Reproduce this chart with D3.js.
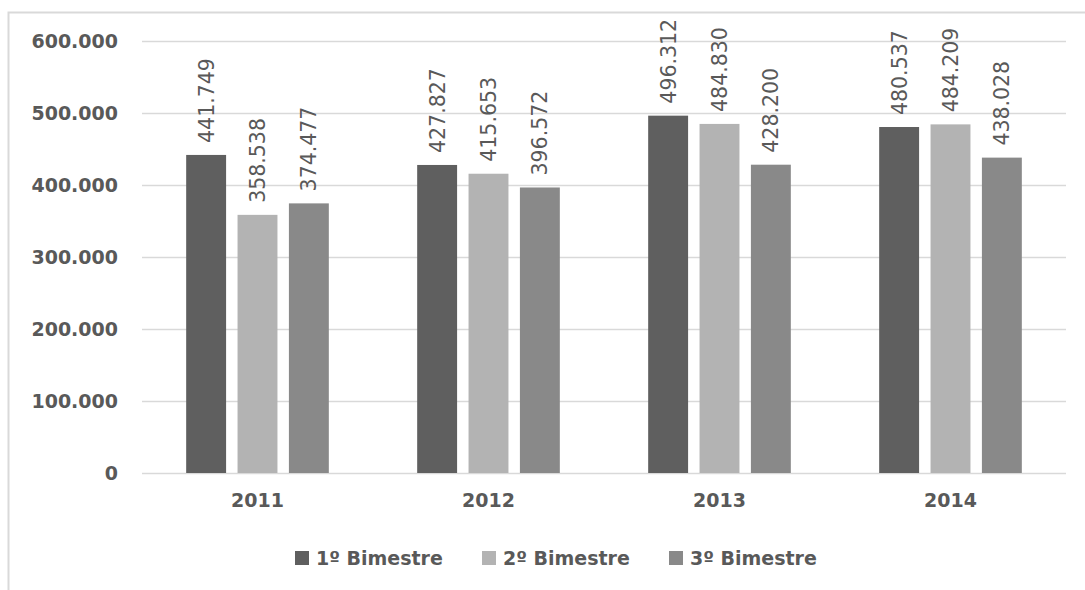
<!DOCTYPE html>
<html>
<head>
<meta charset="utf-8">
<script src="https://cdn.jsdelivr.net/npm/d3@7/dist/d3.min.js"></script>
<style>
  html, body { margin: 0; padding: 0; background: #ffffff; }
  svg { display: block; }
  text { font-family: "DejaVu Sans", Verdana, sans-serif; fill: #595959; }
</style>
</head>
<body>
<svg id="chart" width="1085" height="590"></svg>
<script>
// Years on the category axis
const years = ["2011", "2012", "2013", "2014"];
// Series names (bimesters)
const series = ["1º Bimestre", "2º Bimestre", "3º Bimestre"];
// Values per series, one entry per year
const bim1 = [441749, 427827, 496312, 480537];
const bim2 = [358538, 415653, 484830, 484209];
const bim3 = [374477, 396572, 428200, 438028];
// Y axis ticks
const yTicks = [0, 100000, 200000, 300000, 400000, 500000, 600000];

const colors = ["#5f5f5f", "#b3b3b3", "#898989"];
const seriesValues = [bim1, bim2, bim3];

const rows = [];
years.forEach((yr, i) => {
  series.forEach((s, j) => rows.push({ year: yr, series: s, value: seriesValues[j][i], color: colors[j] }));
});

const ptBR = d3.formatLocale({ decimal: ",", thousands: ".", grouping: [3], currency: ["R$", ""] });
const fmt = ptBR.format(",d");

const svg = d3.select("#chart");

// Chart frame
svg.append("rect")
  .attr("x", 8.5).attr("y", 12.5)
  .attr("width", 1200).attr("height", 700)
  .attr("fill", "#ffffff")
  .attr("stroke", "#d9d9d9").attr("stroke-width", 2);

const x0 = d3.scaleBand().domain(years).range([142, 1066]).paddingInner(0).paddingOuter(0);
const x1 = d3.scaleBand().domain(series).range([0, x0.bandwidth()]).paddingInner(0.223).paddingOuter(0.86);
const y = d3.scaleLinear().domain([0, 600000]).range([473, 41]);

// Gridlines
svg.append("g").selectAll("line").data(yTicks).join("line")
  .attr("x1", 142).attr("x2", 1066)
  .attr("y1", d => Math.round(y(d)) + 0.5).attr("y2", d => Math.round(y(d)) + 0.5)
  .attr("stroke", "#d9d9d9").attr("stroke-width", 1.3);

// Y axis labels
const yAxis = d3.axisLeft(y).tickValues(yTicks).tickFormat(fmt).tickSize(0).tickPadding(0);
const yg = svg.append("g").attr("transform", "translate(118,0)").call(yAxis);
yg.select(".domain").remove();
yg.selectAll("text")
  .attr("font-size", 19).attr("font-weight", "bold")
  .attr("font-family", "DejaVu Sans, sans-serif")
  .attr("fill", "#5a5a5a").attr("dy", "0.36em");

// X axis labels
const xAxis = d3.axisBottom(x0).tickSize(0).tickPadding(0);
const xg = svg.append("g").attr("transform", "translate(0,500)").call(xAxis);
xg.select(".domain").remove();
xg.selectAll("text")
  .attr("font-size", 19).attr("font-weight", "bold")
  .attr("font-family", "DejaVu Sans, sans-serif")
  .attr("fill", "#5a5a5a").attr("dy", "0.36em");

// Bars
const bars = svg.append("g");
bars.selectAll("rect").data(rows).join("rect")
  .attr("x", d => x0(d.year) + x1(d.series))
  .attr("y", d => y(d.value))
  .attr("width", x1.bandwidth())
  .attr("height", d => y(0) - y(d.value))
  .attr("fill", d => d.color);

// Rotated value labels
bars.selectAll("text").data(rows).join("text")
  .attr("transform", d => `translate(${x0(d.year) + x1(d.series) + x1.bandwidth() / 2},${y(d.value) - 12}) rotate(-90)`)
  .attr("dy", "0.36em")
  .attr("text-anchor", "start")
  .attr("font-size", 20.5)
  .attr("fill", "#404040")
  .text(d => fmt(d.value));

// Legend
const legendX = d3.scalePoint().domain(series).range([316, 690]);
const lg = svg.append("g").selectAll("g").data(series).join("g")
  .attr("transform", d => `translate(${legendX(d)},558)`);
lg.append("rect")
  .attr("x", -21).attr("y", -7).attr("width", 14).attr("height", 14)
  .attr("fill", (d, i) => colors[i]);
lg.append("text")
  .attr("dy", "0.36em")
  .attr("font-size", 19).attr("font-weight", "bold")
  .attr("fill", "#5a5a5a")
  .text(d => d);
</script>
</body>
</html>
